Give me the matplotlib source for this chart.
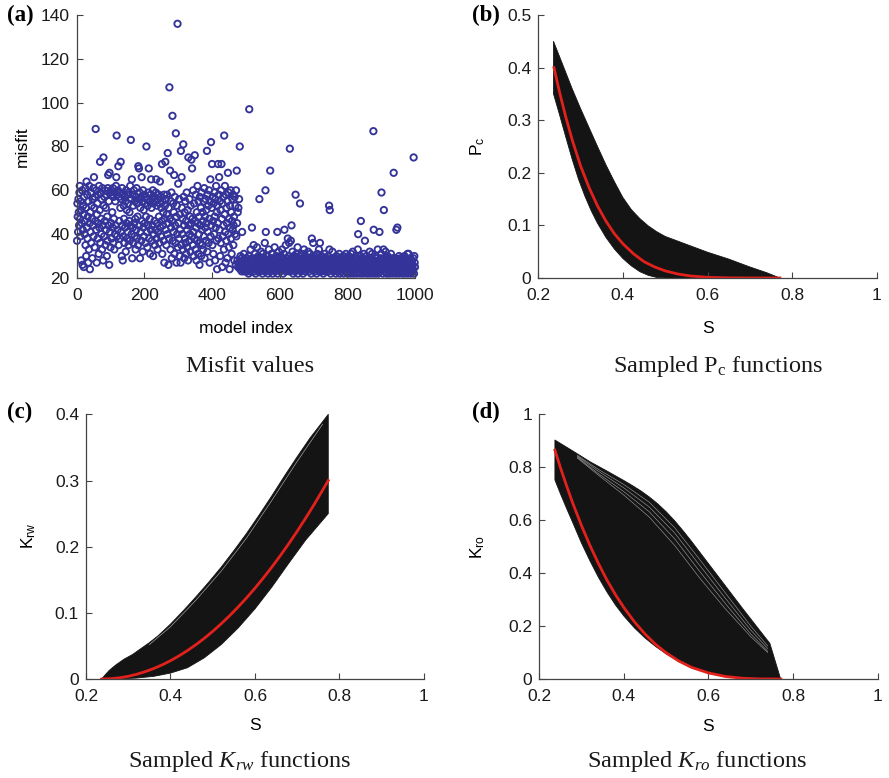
import matplotlib
matplotlib.use('Agg')
import matplotlib.pyplot as plt
import numpy as np

plt.rcParams['font.family'] = ['Liberation Sans', 'DejaVu Sans']
plt.rcParams['mathtext.fontset'] = 'custom'
plt.rcParams['mathtext.rm'] = 'Liberation Sans'
plt.rcParams['mathtext.it'] = 'Liberation Serif:italic'
plt.rcParams['mathtext.sf'] = 'Liberation Serif'

# ---- (a) misfit of each sampled model ----
misfit = [
    37, 54, 48, 41, 56, 50, 44, 59, 62, 47, 39, 55, 28, 51, 45, 60, 26, 42, 53, 49,
    25, 57, 40, 46, 61, 35, 52, 30, 64, 43, 58, 38, 48, 27, 55, 33, 62, 45, 24, 50,
    41, 59, 36, 53, 47, 29, 56, 44, 61, 39, 66, 52, 34, 57, 46, 88, 42, 60, 27, 49,
    54, 38, 58, 45, 31, 62, 43, 51, 73, 36, 59, 47, 40, 56, 33, 61, 44, 28, 75, 53,
    39, 57, 46, 60, 35, 52, 42, 58, 30, 48, 37, 61, 67, 44, 55, 26, 68, 41, 59, 34,
    60, 45, 38, 58, 50, 43, 61, 36, 57, 47, 33, 59, 40, 55, 44, 62, 66, 85, 39, 58,
    42, 60, 71, 35, 57, 46, 59, 38, 52, 73, 41, 56, 30, 61, 44, 28, 58, 39, 53, 47,
    36, 57, 43, 55, 32, 60, 45, 51, 38, 58, 41, 54, 35, 59, 46, 50, 37, 62, 44, 83,
    56, 40, 65, 29, 58, 43, 53, 36, 60, 45, 39, 55, 47, 33, 57, 42, 61, 38, 54, 48,
    35, 71, 56, 70, 44, 59, 29, 52, 41, 57, 37, 66, 46, 55, 32, 60, 43, 51, 39, 58,
    45, 54, 36, 57, 48, 80, 41, 56, 34, 53, 44, 59, 70, 38, 55, 47, 31, 58, 42, 65,
    52, 37, 56, 44, 60, 30, 54, 40, 57, 46, 35, 55, 42, 59, 65, 38, 53, 45, 33, 56,
    41, 58, 48, 36, 54, 64, 43, 57, 39, 52, 46, 72, 31, 55, 44, 50, 37, 58, 27, 47,
    53, 73, 42, 56, 35, 49, 58, 40, 77, 45, 26, 52, 38, 107, 47, 69, 33, 55, 43, 59,
    29, 46, 94, 37, 54, 41, 50, 67, 31, 57, 44, 36, 86, 48, 27, 53, 40, 136, 34, 63,
    45, 38, 56, 30, 49, 42, 27, 78, 35, 66, 52, 40, 47, 33, 81, 57, 44, 29, 50, 38,
    55, 36, 46, 31, 59, 42, 34, 51, 28, 75, 44, 37, 56, 40, 48, 32, 53, 45, 74, 39,
    70, 47, 35, 60, 41, 30, 54, 38, 76, 46, 33, 58, 43, 28, 50, 37, 62, 45, 31, 55,
    40, 48, 26, 57, 36, 44, 52, 30, 59, 42, 35, 50, 46, 33, 55, 39, 61, 29, 48, 43,
    56, 37, 51, 45, 78, 32, 58, 41, 53, 36, 60, 47, 27, 55, 65, 39, 82, 44, 52, 72,
    35, 57, 46, 31, 54, 40, 59, 48, 28, 56, 43, 62, 37, 50, 24, 53, 45, 72, 38, 58,
    66, 42, 55, 30, 51, 36, 60, 72, 47, 25, 54, 39, 57, 44, 33, 85, 49, 62, 41, 27,
    58, 37, 52, 45, 29, 55, 68, 40, 59, 34, 47, 24, 53, 43, 60, 38, 50, 31, 46, 56,
    42, 58, 35, 44, 48, 28, 57, 40, 53, 26, 60, 39, 69, 45, 28, 50, 25, 52, 27, 56,
    26, 80, 24, 30, 27, 25, 29, 23, 41, 26, 28, 24, 27, 31, 25, 23, 28, 26, 24, 29,
    25, 27, 23, 29, 26, 24, 28, 22, 30, 97, 25, 27, 23, 33, 26, 24, 28, 43, 25, 29,
    24, 26, 35, 23, 28, 25, 31, 27, 22, 26, 29, 24, 34, 25, 27, 23, 30, 26, 28, 56,
    25, 23, 29, 27, 32, 24, 26, 28, 22, 31, 25, 27, 24, 29, 26, 36, 23, 60, 41, 28,
    25, 27, 24, 30, 26, 22, 28, 33, 25, 27, 23, 69, 26, 29, 24, 31, 27, 25, 22, 28,
    26, 24, 29, 27, 34, 23, 25, 28, 26, 30, 24, 27, 41, 22, 29, 25, 32, 26, 28, 24,
    27, 23, 30, 25, 28, 26, 33, 24, 29, 22, 27, 25, 31, 42, 26, 28, 24, 35, 23, 27,
    25, 29, 26, 38, 24, 28, 30, 36, 23, 79, 27, 25, 37, 29, 44, 26, 24, 32, 28, 22,
    26, 30, 25, 27, 23, 29, 58, 24, 31, 26, 28, 25, 34, 22, 27, 29, 24, 26, 30, 54,
    25, 27, 23, 28, 26, 31, 24, 29, 22, 27, 25, 33, 26, 28, 24, 30, 23, 27, 25, 29,
    26, 24, 28, 32, 25, 27, 23, 29, 26, 31, 24, 28, 22, 27, 38, 25, 29, 26, 36, 24,
    27, 25, 30, 23, 28, 26, 24, 29, 22, 27, 31, 25, 28, 24, 26, 33, 23, 29, 36, 25,
    28, 24, 26, 30, 23, 27, 25, 29, 22, 26, 28, 24, 31, 25, 27, 23, 29, 26, 24, 28,
    25, 27, 30, 23, 26, 53, 33, 51, 24, 28, 22, 27, 25, 29, 26, 32, 24, 28, 23, 27,
    26, 24, 29, 25, 27, 22, 28, 30, 24, 26, 23, 27, 25, 29, 24, 31, 26, 22, 28, 25,
    27, 23, 26, 29, 24, 28, 25, 30, 22, 27, 26, 24, 29, 23, 28, 31, 25, 27, 24, 26,
    22, 28, 25, 30, 23, 27, 26, 24, 29, 22, 31, 25, 28, 23, 26, 32, 24, 27, 22, 29,
    25, 23, 28, 26, 30, 24, 27, 22, 29, 25, 33, 40, 24, 27, 23, 28, 26, 22, 30, 46,
    24, 28, 25, 23, 27, 29, 22, 26, 31, 24, 28, 37, 25, 23, 27, 30, 22, 26, 29, 24,
    27, 23, 25, 28, 22, 32, 26, 24, 29, 23, 27, 25, 31, 22, 28, 24, 87, 42, 26, 23,
    28, 25, 22, 30, 27, 24, 29, 23, 26, 33, 25, 22, 28, 24, 41, 27, 23, 29, 25, 31,
    59, 26, 24, 28, 22, 27, 33, 51, 25, 29, 23, 26, 32, 24, 28, 22, 27, 25, 30, 23,
    26, 24, 29, 22, 28, 25, 27, 23, 31, 26, 24, 28, 22, 29, 25, 27, 68, 23, 26, 28,
    24, 29, 22, 27, 42, 25, 23, 43, 28, 26, 24, 22, 30, 27, 25, 23, 29, 26, 28, 24,
    27, 22, 25, 29, 23, 28, 26, 24, 30, 22, 27, 25, 29, 23, 26, 28, 24, 31, 22, 27,
    31, 25, 28, 23, 26, 29, 24, 22, 27, 25, 28, 23, 26, 24, 29, 75, 22, 30, 27, 25,
]
model_index = np.arange(1, len(misfit) + 1)

# ---- (b) capillary pressure: band of sampled curves (upper/lower edge) and reference ----
pc_up_s = [0.236, 0.26, 0.28, 0.30, 0.32, 0.34, 0.36, 0.38, 0.40, 0.42, 0.44, 0.46, 0.48,
           0.50, 0.53, 0.56, 0.60, 0.65, 0.70, 0.74, 0.771]
pc_up = [0.450, 0.401, 0.360, 0.322, 0.286, 0.250, 0.215, 0.183, 0.153, 0.130, 0.113, 0.099,
         0.088, 0.079, 0.070, 0.061, 0.049, 0.036, 0.021, 0.010, 0.0]
pc_lo_s = [0.236, 0.25, 0.265, 0.28, 0.295, 0.31, 0.325, 0.34, 0.36, 0.38, 0.40, 0.42, 0.44,
           0.46, 0.48, 0.50, 0.771]
pc_lo = [0.350, 0.311, 0.268, 0.226, 0.188, 0.156, 0.128, 0.104, 0.077, 0.055, 0.037, 0.023,
         0.012, 0.005, 0.001, 0.0, 0.0]
pc_ref_s = [0.237, 0.25, 0.265, 0.28, 0.30, 0.32, 0.34, 0.36, 0.38, 0.40, 0.425, 0.45, 0.475,
            0.50, 0.53, 0.56, 0.60, 0.65, 0.70, 0.771]
pc_ref = [0.400, 0.354, 0.306, 0.263, 0.213, 0.172, 0.137, 0.108, 0.084, 0.065, 0.046, 0.031,
          0.021, 0.0135, 0.0075, 0.0038, 0.0013, 0.0002, 0.0, 0.0]

# ---- (c) water relative permeability ----
krw_up_s = [0.237, 0.245, 0.255, 0.27, 0.29, 0.31, 0.33, 0.35, 0.37, 0.40, 0.43, 0.46, 0.49,
            0.52, 0.55, 0.58, 0.61, 0.64, 0.67, 0.70, 0.73, 0.7735]
krw_up = [0.0, 0.006, 0.013, 0.021, 0.030, 0.037, 0.046, 0.055, 0.065, 0.083, 0.103, 0.124,
          0.146, 0.169, 0.194, 0.220, 0.248, 0.277, 0.307, 0.336, 0.364, 0.400]
krw_lo_s = [0.237, 0.28, 0.32, 0.36, 0.40, 0.44, 0.48, 0.52, 0.56, 0.60, 0.64, 0.68, 0.72, 0.7735]
krw_lo = [0.0, 0.0003, 0.0015, 0.004, 0.009, 0.017, 0.032, 0.052, 0.077, 0.106, 0.139, 0.175,
          0.210, 0.250]
krw_ref_s = [0.237, 0.26, 0.28, 0.30, 0.32, 0.34, 0.36, 0.38, 0.40, 0.42, 0.44, 0.46, 0.48,
             0.50, 0.52, 0.54, 0.56, 0.58, 0.60, 0.62, 0.64, 0.66, 0.68, 0.70, 0.72, 0.74, 0.7735]
krw_ref = [0.0, 0.0006, 0.0019, 0.0041, 0.0072, 0.0111, 0.0158, 0.0213, 0.0277, 0.0349, 0.0430,
           0.0518, 0.0615, 0.0721, 0.0835, 0.0957, 0.1088, 0.1226, 0.1373, 0.1529, 0.1693,
           0.1865, 0.2045, 0.2234, 0.2432, 0.2637, 0.300]
# thin gap between sampled curves just under the upper edge
krw_gap_s = [0.35, 0.40, 0.46, 0.52, 0.58, 0.64, 0.70, 0.76]
krw_gap = [0.052, 0.079, 0.119, 0.163, 0.213, 0.270, 0.329, 0.385]

# ---- (d) oil relative permeability ----
kro_up_s = [0.237, 0.28, 0.32, 0.36, 0.40, 0.42, 0.44, 0.46, 0.48, 0.50, 0.52, 0.54, 0.56,
            0.60, 0.64, 0.68, 0.72, 0.745, 0.7706]
kro_up = [0.903, 0.861, 0.821, 0.786, 0.750, 0.731, 0.711, 0.688, 0.662, 0.632, 0.598, 0.560,
          0.520, 0.436, 0.352, 0.268, 0.186, 0.135, 0.0]
kro_lo_s = [0.237, 0.25, 0.265, 0.28, 0.30, 0.32, 0.34, 0.36, 0.38, 0.40, 0.425, 0.45, 0.475,
            0.50, 0.53, 0.56, 0.60, 0.64, 0.68, 0.72, 0.7706]
kro_lo = [0.752, 0.700, 0.643, 0.588, 0.513, 0.446, 0.384, 0.329, 0.280, 0.238, 0.193, 0.155,
          0.123, 0.095, 0.066, 0.043, 0.022, 0.0095, 0.003, 0.0005, 0.0]
kro_ref_s = [0.237, 0.25, 0.265, 0.28, 0.30, 0.32, 0.34, 0.36, 0.38, 0.40, 0.425, 0.45, 0.475,
             0.50, 0.53, 0.56, 0.60, 0.64, 0.68, 0.72, 0.771]
kro_ref = [0.865, 0.799, 0.728, 0.661, 0.579, 0.504, 0.436, 0.374, 0.319, 0.270, 0.216, 0.170,
           0.131, 0.099, 0.068, 0.044, 0.023, 0.0097, 0.003, 0.0005, 0.0]
# thin gaps between sampled curves in the upper part of the band
kro_gap_s = [0.29, 0.34, 0.40, 0.46, 0.52, 0.58, 0.64, 0.70, 0.74]
kro_gaps = [
    [0.845, 0.792, 0.735, 0.668, 0.572, 0.450, 0.325, 0.200, 0.125],
    [0.842, 0.785, 0.722, 0.650, 0.552, 0.428, 0.305, 0.185, 0.115],
    [0.838, 0.776, 0.708, 0.632, 0.530, 0.405, 0.285, 0.170, 0.105],
    [0.835, 0.770, 0.695, 0.612, 0.505, 0.380, 0.265, 0.160, 0.100],
]

BLUE = '#333399'
BAND = '#141414'
RED = '#e3211c'
serif = ['Liberation Serif', 'DejaVu Serif']


def style(ax, xlim, ylim, xticks, yticks):
    ax.set_xlim(xlim)
    ax.set_ylim(ylim)
    ax.set_xticks(xticks)
    ax.set_yticks(yticks)
    ax.set_xticklabels(['%g' % t for t in xticks])
    ax.set_yticklabels(['%g' % t for t in yticks])
    ax.spines['top'].set_visible(False)
    ax.spines['right'].set_visible(False)
    for s in ['left', 'bottom']:
        ax.spines[s].set_color('#444444')
        ax.spines[s].set_linewidth(0.9)
    ax.tick_params(direction='in', length=4, width=0.8, color='#444444',
                   labelsize=12.5, labelcolor='#1a1a1a')
    ax.tick_params(axis='x', pad=7)
    ax.tick_params(axis='y', pad=5)


def labels(ax, xl, yl, xy, yx, yy=0.5):
    ax.set_xlabel(xl, fontsize=12.5)
    ax.set_ylabel(yl, fontsize=12.5)
    ax.yaxis.label.set_verticalalignment('center')
    ax.xaxis.set_label_coords(0.5, xy)
    ax.yaxis.set_label_coords(yx, yy)


def band(ax, up_s, up, lo_s, lo):
    xs = list(up_s) + list(lo_s)[::-1]
    ys = list(up) + list(lo)[::-1]
    ax.fill(xs, ys, color=BAND, lw=0.6, ec=BAND, joinstyle='round')


fig = plt.figure(figsize=(8.89, 7.78), dpi=100)

ax = fig.add_axes([0.0863, 0.6427, 0.3805, 0.3380])
ax.scatter(model_index, misfit, s=21, facecolors='none', edgecolors=BLUE, linewidths=1.35, clip_on=False)
style(ax, (0, 1000), (20, 140), [0, 200, 400, 600, 800, 1000], [20, 40, 60, 80, 100, 120, 140])
labels(ax, 'model index', 'misfit', -0.165, -0.162)

ax = fig.add_axes([0.6055, 0.6427, 0.3807, 0.3380])
band(ax, pc_up_s, pc_up, pc_lo_s, pc_lo)
ax.plot(pc_ref_s, pc_ref, color=RED, lw=2, solid_joinstyle='round')
style(ax, (0.2, 1), (0, 0.5), [0.2, 0.4, 0.6, 0.8, 1], [0, 0.1, 0.2, 0.3, 0.4, 0.5])
labels(ax, 'S', r'P$_\mathrm{c}$', -0.165, -0.178)

ax = fig.add_axes([0.0967, 0.1272, 0.3802, 0.3402])
band(ax, krw_up_s, krw_up, krw_lo_s, krw_lo)
ax.plot(krw_gap_s, krw_gap, color='white', lw=0.5, alpha=0.6)
ax.plot(krw_ref_s, krw_ref, color=RED, lw=2, solid_joinstyle='round')
style(ax, (0.2, 1), (0, 0.4), [0.2, 0.4, 0.6, 0.8, 1], [0, 0.1, 0.2, 0.3, 0.4])
labels(ax, 'S', r'K$_\mathrm{rw}$', -0.149, -0.169, 0.54)

ax = fig.add_axes([0.6066, 0.1272, 0.3807, 0.3402])
band(ax, kro_up_s, kro_up, kro_lo_s, kro_lo)
for g in kro_gaps:
    ax.plot(kro_gap_s, g, color='white', lw=0.45, alpha=0.55)
ax.plot(kro_ref_s, kro_ref, color=RED, lw=2, solid_joinstyle='round')
style(ax, (0.2, 1), (0, 1), [0.2, 0.4, 0.6, 0.8, 1], [0, 0.2, 0.4, 0.6, 0.8, 1])
labels(ax, 'S', r'K$_\mathrm{ro}$', -0.152, -0.183)

# panel letters and captions
for x, y, t in [(7, 15, '(a)'), (472, 15, '(b)'), (7, 412, '(c)'), (472, 412, '(d)')]:
    fig.text(x / 889, 1 - y / 778, t, family=serif, fontweight='bold', fontsize=16.5,
             ha='left', va='center')

caps = [(250, 372, 'Misfit values'),
        (718, 372, r'Sampled P$_\mathsf{c}$ functions'),
        (240, 767, r'Sampled $K_{rw}$ functions'),
        (697, 767, r'Sampled $K_{ro}$ functions')]
for x, y, t in caps:
    fig.text(x / 889, 1 - y / 778, t, family=serif, fontsize=17.5, ha='center', va='baseline',
             color='#1a1a1a')

fig.savefig('out.png', dpi=100)
